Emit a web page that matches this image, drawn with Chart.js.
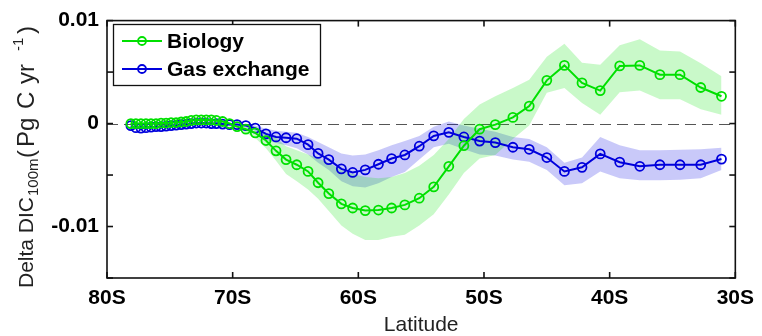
<!DOCTYPE html>
<html>
<head>
<meta charset="utf-8">
<script src="https://cdn.jsdelivr.net/npm/chart.js@4/dist/chart.umd.min.js"></script>
<style>
html,body{margin:0;padding:0;background:#fff;}
#wrap{width:762px;height:336px;}
</style>
</head>
<body>
<div id="wrap"><canvas id="c" width="762" height="336"></canvas></div>
<script>
// ---------- data ----------
const latitude = [-78.1,-77.7,-77.3,-76.9,-76.5,-76.1,-75.7,-75.3,-74.9,-74.5,-74.1,-73.7,-73.3,-72.9,-72.5,-72.1,-71.7,-71.3,
  -70.8,-70.25,-69.65,-68.95,-68.2,-67.35,-66.55,-65.75,-64.9,-64.0,-63.2,-62.35,-61.35,-60.45,-59.45,-58.4,-57.35,-56.3,
  -55.15,-54.0,-52.8,-51.6,-50.35,-49.1,-47.7,-46.4,-45.0,-43.6,-42.2,-40.75,-39.2,-37.6,-36.0,-34.4,-32.75,-31.1];

const biology = [0,0,0,0,0,0,0.05e-3,0.05e-3,0.1e-3,0.1e-3,0.15e-3,0.2e-3,0.3e-3,0.35e-3,0.35e-3,0.35e-3,0.35e-3,0.3e-3,
  0.2e-3,0,-0.3e-3,-0.55e-3,-0.9e-3,-1.65e-3,-2.65e-3,-3.5e-3,-4.0e-3,-4.65e-3,-5.75e-3,-6.8e-3,-7.8e-3,-8.2e-3,-8.45e-3,-8.4e-3,-8.2e-3,-7.9e-3,
  -7.25e-3,-6.15e-3,-4.15e-3,-2.15e-3,-0.55e-3,-0.1e-3,0.6e-3,1.7e-3,4.2e-3,5.65e-3,3.95e-3,3.2e-3,5.6e-3,5.65e-3,4.75e-3,4.75e-3,3.5e-3,2.65e-3];

const biologyUpper = [0.15e-3,0.1e-3,0.1e-3,0.1e-3,0.1e-3,0.1e-3,0.15e-3,0.15e-3,0.2e-3,0.2e-3,0.25e-3,0.3e-3,0.4e-3,0.45e-3,0.45e-3,0.45e-3,0.45e-3,0.4e-3,
  0.3e-3,0.1e-3,-0.1e-3,-0.25e-3,-0.4e-3,-0.9e-3,-1.4e-3,-2.2e-3,-2.6e-3,-3.0e-3,-3.4e-3,-3.8e-3,-4.5e-3,-4.9e-3,-5.2e-3,-5.3e-3,-5.2e-3,-4.8e-3,
  -4.1e-3,-3.05e-3,-1.5e-3,0.45e-3,1.85e-3,2.65e-3,3.45e-3,4.25e-3,6.5e-3,7.75e-3,5.9e-3,5.7e-3,7.6e-3,8.2e-3,7.1e-3,7.0e-3,5.85e-3,4.6e-3];

const biologyLower = [-0.1e-3,-0.1e-3,-0.1e-3,-0.1e-3,-0.1e-3,-0.1e-3,-0.05e-3,-0.05e-3,0,0,0.05e-3,0.1e-3,0.2e-3,0.25e-3,0.25e-3,0.25e-3,0.25e-3,0.2e-3,
  0.05e-3,-0.2e-3,-0.55e-3,-0.95e-3,-1.4e-3,-2.4e-3,-3.6e-3,-4.9e-3,-5.6e-3,-6.4e-3,-7.3e-3,-8.5e-3,-9.9e-3,-10.7e-3,-11.3e-3,-11.3e-3,-11.0e-3,-10.8e-3,
  -9.9e-3,-8.8e-3,-6.9e-3,-4.8e-3,-3.4e-3,-3.05e-3,-1.5e-3,-0.2e-3,3.0e-3,3.45e-3,2.0e-3,0.85e-3,3.05e-3,3.2e-3,2.35e-3,2.35e-3,1.4e-3,0.85e-3];

const gasExchange = [-0.2e-3,-0.4e-3,-0.45e-3,-0.4e-3,-0.35e-3,-0.3e-3,-0.3e-3,-0.25e-3,-0.2e-3,-0.15e-3,-0.1e-3,-0.05e-3,0,0.05e-3,0.05e-3,0.05e-3,0,0,
  -0.05e-3,-0.1e-3,-0.1e-3,-0.2e-3,-0.45e-3,-1.0e-3,-1.3e-3,-1.38e-3,-1.47e-3,-2.05e-3,-2.9e-3,-3.5e-3,-4.4e-3,-4.75e-3,-4.5e-3,-3.95e-3,-3.4e-3,-3.05e-3,
  -2.2e-3,-1.2e-3,-0.85e-3,-1.3e-3,-1.7e-3,-1.85e-3,-2.3e-3,-2.5e-3,-3.3e-3,-4.65e-3,-4.25e-3,-2.95e-3,-3.75e-3,-4.15e-3,-4.0e-3,-4.0e-3,-4.0e-3,-3.45e-3];

const gasUpper = [-0.05e-3,-0.25e-3,-0.3e-3,-0.25e-3,-0.2e-3,-0.15e-3,-0.15e-3,-0.1e-3,-0.05e-3,0,0.05e-3,0.1e-3,0.15e-3,0.2e-3,0.2e-3,0.2e-3,0.15e-3,0.15e-3,
  0.1e-3,0.05e-3,0.05e-3,-0.05e-3,-0.2e-3,-0.5e-3,-0.7e-3,-0.8e-3,-0.9e-3,-1.3e-3,-1.8e-3,-2.3e-3,-2.9e-3,-3.1e-3,-3.0e-3,-2.6e-3,-2.1e-3,-1.7e-3,
  -1.2e-3,-0.3e-3,0.2e-3,-0.2e-3,-0.5e-3,-0.8e-3,-1.3e-3,-1.5e-3,-2.3e-3,-3.8e-3,-3.3e-3,-1.3e-3,-2.1e-3,-2.6e-3,-2.6e-3,-2.55e-3,-2.5e-3,-2.35e-3];

const gasLower = [-0.35e-3,-0.55e-3,-0.6e-3,-0.55e-3,-0.5e-3,-0.45e-3,-0.45e-3,-0.4e-3,-0.35e-3,-0.3e-3,-0.25e-3,-0.2e-3,-0.15e-3,-0.1e-3,-0.1e-3,-0.1e-3,-0.15e-3,-0.15e-3,
  -0.2e-3,-0.25e-3,-0.25e-3,-0.35e-3,-0.7e-3,-1.6e-3,-1.9e-3,-2.1e-3,-2.4e-3,-3.0e-3,-3.8e-3,-4.5e-3,-5.6e-3,-6.1e-3,-6.2e-3,-5.8e-3,-5.2e-3,-4.7e-3,
  -3.5e-3,-2.3e-3,-1.95e-3,-2.5e-3,-3.0e-3,-3.1e-3,-3.5e-3,-3.7e-3,-4.5e-3,-6.0e-3,-5.8e-3,-4.65e-3,-5.3e-3,-5.5e-3,-5.5e-3,-5.45e-3,-5.3e-3,-4.5e-3];

const seriesNames = ['Biology', 'Gas exchange'];
const xTickValues = [-80, -70, -60, -50, -40, -30];
const xTickLabels = ['80S', '70S', '60S', '50S', '40S', '30S'];
const yTickValues = [0.01, 0, -0.01];
const yTickLabels = ['0.01', '0', '-0.01'];
const yTickMarks = [0.01, 0.005, 0, -0.005, -0.01, -0.015];
const xTitle = 'Latitude';
const yTitleMain = 'Delta DIC';
const yTitleSub = '100m';
const yTitleUnitParts = ['(', 'Pg', 'C', 'yr'];
const yTitleSup = '-1';
const yTitleClose = ')';

// ---------- styling ----------
const FONT = '"Liberation Sans", Arial, Helvetica, sans-serif';
const GREEN = '#00e000';
const BLUE = '#0000dc';
const GREEN_BAND = 'rgba(0,225,0,0.21)';
const BLUE_BAND = 'rgba(0,0,225,0.21)';

const pts = ys => latitude.map((x, i) => ({ x: x, y: ys[i] }));

const lineDs = (label, ys, color) => ({
  label: label, data: pts(ys), borderColor: color, borderWidth: 2,
  pointRadius: 4.5, pointHoverRadius: 4.5, pointBorderWidth: 1.8,
  pointBorderColor: color, pointBackgroundColor: 'rgba(0,0,0,0)',
  fill: false, tension: 0
});
const bandDs = (ys, fill, color) => ({
  label: '', data: pts(ys), borderWidth: 0, borderColor: 'rgba(0,0,0,0)',
  pointRadius: 0, pointHoverRadius: 0, backgroundColor: color, fill: fill, tension: 0
});

const deco = {
  id: 'deco',
  beforeDatasetsDraw(chart) {
    const { ctx, chartArea: a, scales: { y } } = chart;
    const y0 = Math.round(y.getPixelForValue(0)) + 0.5;
    ctx.save();
    ctx.strokeStyle = '#555';
    ctx.lineWidth = 1;
    ctx.setLineDash([11, 6]);
    ctx.beginPath();
    ctx.moveTo(a.left, y0);
    ctx.lineTo(a.right, y0);
    ctx.stroke();
    ctx.restore();
  },
  afterDraw(chart) {
    const { ctx, chartArea: a, scales: { x, y } } = chart;
    ctx.save();
    // axis box
    ctx.strokeStyle = '#111';
    ctx.lineWidth = 1.6;
    ctx.strokeRect(a.left, a.top, a.right - a.left, a.bottom - a.top);
    // inward ticks
    const seg = (x1, y1, x2, y2) => { ctx.beginPath(); ctx.moveTo(x1, y1); ctx.lineTo(x2, y2); ctx.stroke(); };
    ctx.lineWidth = 1.6;
    xTickValues.forEach(v => {
      const px = x.getPixelForValue(v);
      seg(px, a.bottom, px, a.bottom - 6);
      seg(px, a.top, px, a.top + 6);
    });
    yTickMarks.forEach(v => {
      const py = y.getPixelForValue(v);
      seg(a.left, py, a.left + 6, py);
      seg(a.right, py, a.right - 6, py);
    });

    // legend
    const lx = 113.5, ly = 24.5, lw = 207, lh = 61;
    ctx.fillStyle = '#fff';
    ctx.fillRect(lx, ly, lw, lh);
    ctx.strokeStyle = '#111';
    ctx.lineWidth = 1.3;
    ctx.strokeRect(lx, ly, lw, lh);
    const rows = [
      { label: chart.data.datasets[0].label, color: GREEN, yy: 41 },
      { label: chart.data.datasets[1].label, color: BLUE, yy: 69 }
    ];
    rows.forEach(r => {
      ctx.strokeStyle = r.color;
      ctx.lineWidth = 2;
      seg(122, r.yy, 162, r.yy);
      ctx.lineWidth = 1.8;
      ctx.beginPath();
      ctx.arc(142, r.yy, 4, 0, Math.PI * 2);
      ctx.stroke();
      ctx.fillStyle = '#000';
      ctx.font = 'bold 21px ' + FONT;
      ctx.textAlign = 'left';
      ctx.textBaseline = 'middle';
      ctx.fillText(r.label, 167, r.yy + 1);
    });

    // x title
    ctx.fillStyle = '#222';
    ctx.font = '21px ' + FONT;
    ctx.textAlign = 'center';
    ctx.textBaseline = 'middle';
    ctx.fillText(xTitle, (a.left + a.right) / 2, 325);

    // y title (rotated, with subscript and superscript)
    ctx.translate(33, 288);
    ctx.rotate(-Math.PI / 2);
    ctx.textAlign = 'left';
    ctx.textBaseline = 'alphabetic';
    ctx.font = '21px ' + FONT;
    ctx.fillText(yTitleMain, 0, 0);
    ctx.font = '15px ' + FONT;
    ctx.fillText(yTitleSub, 92, 5);
    ctx.font = '24px ' + FONT;
    const partPos = [130, 141, 179, 204];
    yTitleUnitParts.forEach((p, i) => ctx.fillText(p, partPos[i], 1));
    ctx.font = '15px ' + FONT;
    ctx.fillText(yTitleSup, 237, -10);
    ctx.font = '24px ' + FONT;
    ctx.fillText(yTitleClose, 254, 1);
    ctx.restore();
  }
};

const tickFont = { family: FONT, size: 21, weight: 'bold' };

new Chart(document.getElementById('c'), {
  type: 'line',
  data: {
    datasets: [
      lineDs(seriesNames[0], biology, GREEN),
      lineDs(seriesNames[1], gasExchange, BLUE),
      bandDs(biologyUpper, '+1', GREEN_BAND),
      bandDs(biologyLower, false, GREEN_BAND),
      bandDs(gasUpper, '+1', BLUE_BAND),
      bandDs(gasLower, false, BLUE_BAND)
    ]
  },
  options: {
    responsive: false,
    animation: false,
    devicePixelRatio: 1,
    layout: { padding: { left: 0, right: 23, top: 16, bottom: 0 } },
    plugins: { legend: { display: false }, tooltip: { enabled: false } },
    scales: {
      x: {
        type: 'linear', min: -80, max: -30,
        grid: { display: false, drawTicks: false },
        border: { display: false },
        ticks: {
          stepSize: 10, autoSkip: false, maxRotation: 0, padding: 8,
          color: '#000', font: tickFont,
          callback: v => { const i = xTickValues.findIndex(t => Math.abs(t - v) < 1e-9); return i >= 0 ? xTickLabels[i] : ''; }
        },
        afterFit: s => { s.height = 58; }
      },
      y: {
        type: 'linear', min: -0.015, max: 0.01,
        grid: { display: false, drawTicks: false },
        border: { display: false },
        ticks: {
          stepSize: 0.005, autoSkip: false, padding: 8,
          color: '#000', font: tickFont,
          callback: v => { const i = yTickValues.findIndex(t => Math.abs(t - v) < 1e-9); return i >= 0 ? yTickLabels[i] : ''; }
        },
        afterFit: s => { s.width = 107; }
      }
    }
  },
  plugins: [deco]
});
</script>
</body>
</html>
